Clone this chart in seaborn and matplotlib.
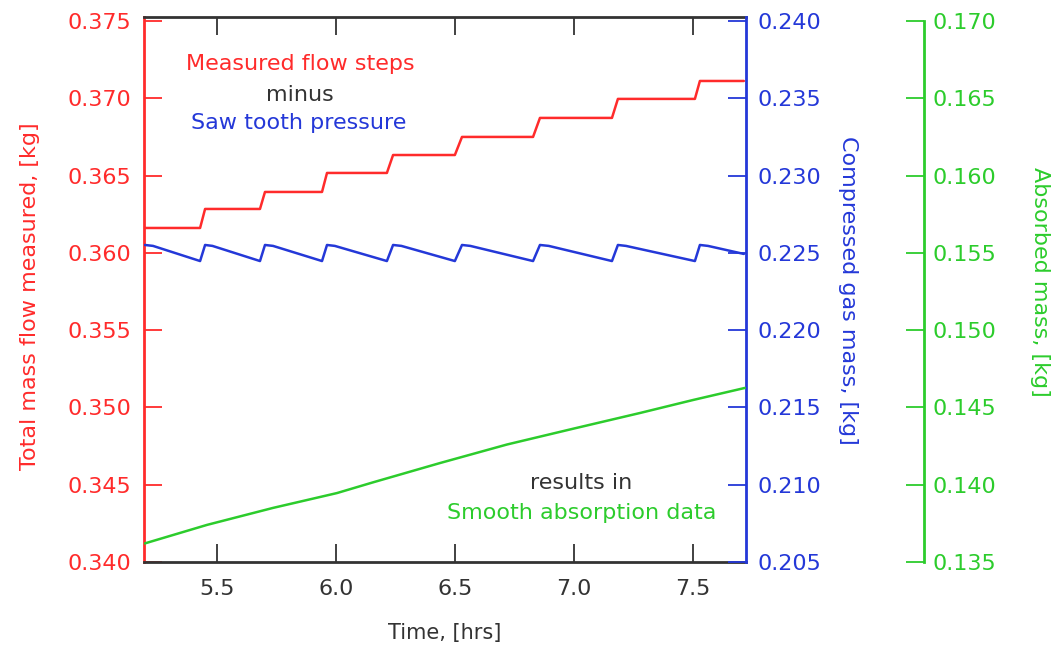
import numpy as np
import matplotlib
matplotlib.use("Agg")
import matplotlib.pyplot as plt
import seaborn as sns

# ---- data ----
red_t = [5.193, 5.428, 5.449, 5.680, 5.701, 5.941, 5.962, 6.214, 6.240,
         6.500, 6.530, 6.829, 6.858, 7.161, 7.186, 7.510, 7.531, 7.716]
red_v = [0.36161, 0.36161, 0.36284, 0.36284, 0.36394, 0.36394, 0.36517, 0.36517, 0.36633,
         0.36633, 0.36750, 0.36750, 0.36873, 0.36873, 0.36996, 0.36996, 0.37112, 0.37112]

blue_t = [5.196, 5.230, 5.428, 5.449, 5.480, 5.680, 5.701, 5.735, 5.941, 5.962, 5.995, 6.214,
          6.240, 6.275, 6.500, 6.530, 6.565, 6.829, 6.858, 6.895, 7.161, 7.186, 7.220, 7.510,
          7.531, 7.565, 7.716]
blue_v = [0.22551, 0.22545, 0.22447, 0.22551, 0.22545, 0.22447, 0.22551, 0.22545, 0.22447,
          0.22551, 0.22545, 0.22447, 0.22551, 0.22545, 0.22447, 0.22551, 0.22545, 0.22447,
          0.22551, 0.22545, 0.22447, 0.22551, 0.22545, 0.22447, 0.22551, 0.22545, 0.22493]

green_t = [5.195, 5.457, 5.735, 6.004, 6.155, 6.437, 6.719, 6.997, 7.279, 7.502, 7.720]
green_v = [0.13620, 0.13740, 0.13850, 0.13946, 0.14015, 0.14140, 0.14260, 0.14362, 0.14464,
           0.14548, 0.14626]

x_ticks = [5.5, 6.0, 6.5, 7.0, 7.5]
x_labels = ["5.5", "6.0", "6.5", "7.0", "7.5"]
red_ticks = [0.340, 0.345, 0.350, 0.355, 0.360, 0.365, 0.370, 0.375]
blue_ticks = [0.205, 0.210, 0.215, 0.220, 0.225, 0.230, 0.235, 0.240]
green_ticks = [0.135, 0.140, 0.145, 0.150, 0.155, 0.160, 0.165, 0.170]

RED = "#ff2b2b"
BLUE = "#2438d8"
GREEN = "#2ccc2c"
DARK = "#333333"

TICK_FS = 16
LAB_FS = 16
ANN_FS = 16

sns.set_theme(style="white")
plt.rcParams["font.family"] = ["DejaVu Sans"]

fig = plt.figure(figsize=(10.54, 6.51), dpi=100)
W, H = 1054, 651
ax = fig.add_axes([144 / W, 1 - 562 / H, (746 - 144) / W, (562 - 17) / H])
ax2 = ax.twinx()
ax3 = ax.twinx()

extra = 4 * 0.035 / 541  # frame extends slightly above top tick

sns.lineplot(x=red_t, y=red_v, ax=ax, color=RED, lw=1.8, sort=False, estimator=None)
sns.lineplot(x=blue_t, y=blue_v, ax=ax2, color=BLUE, lw=1.8, sort=False, estimator=None)
sns.lineplot(x=green_t, y=green_v, ax=ax3, color=GREEN, lw=1.8, sort=False, estimator=None)

ax.set_xlim(5.192, 7.725)
ax.set_ylim(0.340, 0.375 + extra)
ax2.set_ylim(0.205, 0.240 + extra)
ax3.set_ylim(0.135, 0.170 + extra)

ax.set_xticks(x_ticks)
ax.set_xticklabels(x_labels)
ax.set_yticks(red_ticks)
ax.set_yticklabels([f"{v:.3f}" for v in red_ticks])
ax2.set_yticks(blue_ticks)
ax2.set_yticklabels([f"{v:.3f}" for v in blue_ticks])
ax3.set_yticks(green_ticks)
ax3.set_yticklabels([f"{v:.3f}" for v in green_ticks])

# spines
for s in ["left", "right", "top", "bottom"]:
    ax.spines[s].set_linewidth(2)
ax.spines["left"].set_color(RED)
ax.spines["top"].set_color(DARK)
ax.spines["bottom"].set_color(DARK)
ax.spines["right"].set_visible(False)
for s in ["left", "top", "bottom"]:
    ax2.spines[s].set_visible(False)
    ax3.spines[s].set_visible(False)
ax2.spines["right"].set_color(BLUE)
ax2.spines["right"].set_linewidth(2)
ax3.spines["right"].set_position(("axes", (924 - 144) / (746 - 144)))
ax3.spines["right"].set_color(GREEN)
ax3.spines["right"].set_linewidth(2)
ax3.spines["right"].set_bounds(0.135, 0.170)

ax.tick_params(axis="x", direction="in", length=13, width=1.3, color=DARK,
               labelcolor=DARK, labelsize=TICK_FS, top=True, bottom=True, pad=12)
ax.tick_params(axis="y", direction="in", length=13, width=1.3, color=RED,
               labelcolor=RED, labelsize=TICK_FS, left=True, right=False, pad=9)
ax2.tick_params(axis="y", direction="in", length=13, width=1.3, color=BLUE,
                labelcolor=BLUE, labelsize=TICK_FS, right=True, left=False, pad=8)
ax3.tick_params(axis="y", direction="in", length=13, width=1.3, color=GREEN,
                labelcolor=GREEN, labelsize=TICK_FS, right=True, left=False, pad=6)

# axis labels
ax.set_xlabel("Time, [hrs]", fontsize=15, color=DARK)
ax.xaxis.set_label_coords((445 - 144) / 602, (562 - 633) / 545)
ax.xaxis.label.set_va("center")

ax.set_ylabel("Total mass flow measured, [kg]", fontsize=LAB_FS, color=RED)
ax.yaxis.set_label_coords((30 - 144) / 602, (562 - 296) / 545)
ax.yaxis.label.set_va("center")

ax2.set_ylabel("Compressed gas mass, [kg]", fontsize=LAB_FS, color=BLUE, rotation=270)
ax2.yaxis.set_label_coords((848 - 144) / 602, (562 - 290) / 545)
ax2.yaxis.label.set_va("center")

ax3.set_ylabel("Absorbed mass, [kg]", fontsize=LAB_FS, color=GREEN, rotation=270)
ax3.yaxis.set_label_coords((1040 - 144) / 602, (562 - 282) / 545)
ax3.yaxis.label.set_va("center")

# annotations
def axpos(px, py):
    return (px - 144) / 602, (562 - py) / 545

tx, ty = axpos(300, 70)
ax.text(tx, ty, "Measured flow steps", color=RED, fontsize=ANN_FS, ha="center",
        va="baseline", transform=ax.transAxes)
tx, ty = axpos(300, 101)
ax.text(tx, ty, "minus", color=DARK, fontsize=ANN_FS, ha="center",
        va="baseline", transform=ax.transAxes)
tx, ty = axpos(299, 129)
ax.text(tx, ty, "Saw tooth pressure", color=BLUE, fontsize=ANN_FS, ha="center",
        va="baseline", transform=ax.transAxes)
tx, ty = axpos(581, 489)
ax.text(tx, ty, "results in", color=DARK, fontsize=ANN_FS, ha="center",
        va="baseline", transform=ax.transAxes)
tx, ty = axpos(582, 519)
ax.text(tx, ty, "Smooth absorption data", color=GREEN, fontsize=ANN_FS, ha="center",
        va="baseline", transform=ax.transAxes)

for a in (ax, ax2, ax3):
    a.grid(False)

fig.savefig("out.png", dpi=100)
